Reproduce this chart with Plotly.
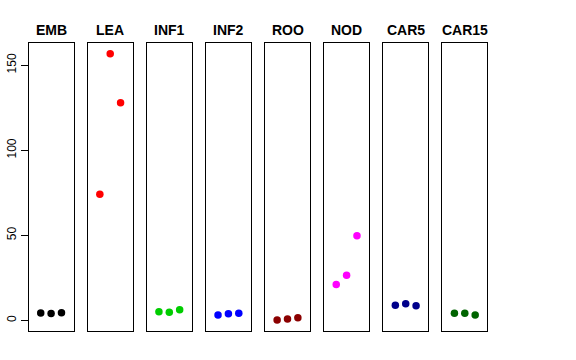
import plotly.graph_objects as go

tissues = ["EMB", "LEA", "INF1", "INF2", "ROO", "NOD", "CAR5", "CAR15"]
values = {
    "EMB": [4.3, 4.0, 4.4],
    "LEA": [74.1, 156.8, 128.0],
    "INF1": [5.1, 4.7, 6.2],
    "INF2": [3.1, 3.9, 4.1],
    "ROO": [0.2, 0.8, 1.5],
    "NOD": [21.0, 26.5, 49.8],
    "CAR5": [8.8, 9.8, 8.6],
    "CAR15": [4.1, 4.2, 3.1],
}
colors = ["#000000", "#FF0000", "#00CD00", "#0000FF", "#8B0000", "#FF00FF", "#00008B", "#006400"]
replicates = [1, 2, 3]
y_ticks = [0, 50, 100, 150]

W, H = 576, 360
box_left0 = 28.7
box_step = 59.1
box_w = 44.8
box_top = 43.0
box_bottom = 331.0
title_y = 29.5

fig = go.Figure()
layout = dict(
    width=W, height=H,
    margin=dict(l=0, r=0, t=0, b=0),
    paper_bgcolor="white", plot_bgcolor="white",
    showlegend=False,
    font=dict(family="Liberation Sans, Arial, sans-serif", color="black", size=12),
)
annotations = []
ymin, ymax = 0.0, 156.8
yr = ymax - ymin
yrange = [ymin - 0.04 * yr, ymax + 0.04 * yr]

for i, (t, c) in enumerate(zip(tissues, colors)):
    n = "" if i == 0 else str(i + 1)
    xa = "x" + n
    ya = "y" + n
    fig.add_trace(go.Scatter(
        x=replicates, y=values[t], mode="markers",
        marker=dict(color=c, size=7.5, line=dict(width=0)),
        xaxis=xa, yaxis=ya, hoverinfo="skip",
    ))
    left = box_left0 + i * box_step
    right = left + box_w
    xdom = [left / W, right / W]
    ydom = [(H - box_bottom) / H, (H - box_top) / H]
    layout["xaxis" + n] = dict(
        domain=xdom, range=[-0.16, 4.16], showgrid=False, zeroline=False,
        showticklabels=False, ticks="", showline=True, mirror=True,
        linecolor="black", linewidth=1, anchor=ya, fixedrange=True,
    )
    yd = dict(
        domain=ydom, range=yrange, showgrid=False, zeroline=False,
        showline=True, mirror=True, linecolor="black", linewidth=1,
        anchor=xa, fixedrange=True, automargin=False,
    )
    if i == 0:
        yd.update(tickvals=y_ticks, ticktext=[str(v) for v in y_ticks],
                  ticks="outside", ticklen=7, tickcolor="black", tickwidth=1,
                  tickangle=-90, tickfont=dict(size=12, color="black"))
    else:
        yd.update(showticklabels=False, ticks="")
    layout["yaxis" + n] = yd
    annotations.append(dict(
        text="<b>" + t + "</b>", x=(left + right) / 2 / W, y=(H - title_y) / H,
        xref="paper", yref="paper", showarrow=False,
        font=dict(size=14, color="black", family="Liberation Sans, Arial, sans-serif"),
        xanchor="center", yanchor="middle",
    ))

layout["annotations"] = annotations
fig.update_layout(**layout)
fig.write_html(
    "out.html",
    config={"displayModeBar": False, "staticPlot": True},
    post_script="document.body.style.margin='0';document.body.style.overflow='hidden';",
)
